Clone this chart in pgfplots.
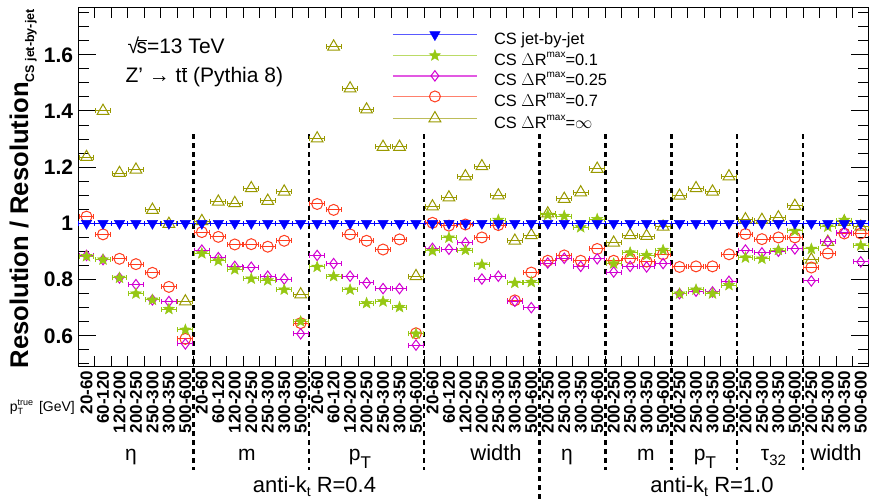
\documentclass[border=0pt]{standalone}
\usepackage{fontspec}
\setmainfont{Liberation Sans}
\usepackage{pgfplots}
\usepackage{pgfplotstable}
\pgfplotsset{compat=1.18}
\usetikzlibrary{plotmarks}

\definecolor{cblue}{RGB}{0,0,255}
\definecolor{cgreen}{RGB}{150,200,20}
\definecolor{cmag}{RGB}{210,0,210}
\definecolor{cred}{RGB}{255,60,30}
\definecolor{colive}{RGB}{153,153,0}

% filled five-pointed star (ROOT marker 29)
\pgfdeclareplotmark{fstar}{%
  \pgfpathmoveto{\pgfpointpolar{90}{\pgfplotmarksize}}%
  \pgfpathlineto{\pgfpointpolar{126}{0.42\pgfplotmarksize}}%
  \pgfpathlineto{\pgfpointpolar{162}{\pgfplotmarksize}}%
  \pgfpathlineto{\pgfpointpolar{198}{0.42\pgfplotmarksize}}%
  \pgfpathlineto{\pgfpointpolar{234}{\pgfplotmarksize}}%
  \pgfpathlineto{\pgfpointpolar{270}{0.42\pgfplotmarksize}}%
  \pgfpathlineto{\pgfpointpolar{306}{\pgfplotmarksize}}%
  \pgfpathlineto{\pgfpointpolar{342}{0.42\pgfplotmarksize}}%
  \pgfpathlineto{\pgfpointpolar{18}{\pgfplotmarksize}}%
  \pgfpathlineto{\pgfpointpolar{54}{0.42\pgfplotmarksize}}%
  \pgfpathclose
  \pgfusepathqfillstroke
}

% bin, dR=0.1, dR=0.25, dR=0.7, dR=inf
\pgfplotstableread{
x  dra   drb   drc   drd
0  0.883 0.886 1.024 1.236
1  0.871 0.871 0.961 1.400
2  0.806 0.806 0.874 1.179
3  0.750 0.782 0.855 1.191
4  0.728 0.728 0.824 1.048
5  0.695 0.722 0.774 0.998
6  0.621 0.571 0.589 0.722
7  0.893 0.905 0.969 1.008
8  0.867 0.878 0.952 1.077
9  0.836 0.847 0.925 1.072
10 0.803 0.844 0.926 1.125
11 0.797 0.812 0.917 1.080
12 0.764 0.802 0.938 1.113
13 0.651 0.607 0.645 0.747
14 0.845 0.886 1.069 1.302
15 0.812 0.857 1.048 1.629
16 0.764 0.812 0.961 1.480
17 0.716 0.788 0.938 1.405
18 0.722 0.768 0.907 1.272
19 0.702 0.768 0.943 1.272
20 0.607 0.567 0.609 0.812
21 0.902 0.911 1.002 1.060
22 0.949 0.908 0.992 1.092
23 0.905 0.931 0.996 1.167
24 0.853 0.802 0.950 1.203
25 1.012 0.812 0.994 1.099
26 0.788 0.723 0.726 0.938
27 0.791 0.700 0.825 0.958
28 1.030 0.859 0.867 1.035
29 1.026 0.876 0.886 1.087
30 0.986 0.847 0.867 1.110
31 1.015 0.874 0.909 1.194
32 0.857 0.827 0.867 0.931
33 0.896 0.847 0.875 0.958
34 0.887 0.845 0.864 0.955
35 0.905 0.857 0.890 0.988
36 0.750 0.750 0.845 1.098
37 0.764 0.759 0.847 1.125
38 0.750 0.756 0.847 1.113
39 0.780 0.794 0.890 1.167
40 0.878 0.905 0.962 1.014
41 0.874 0.895 0.944 1.012
42 0.905 0.901 0.950 1.021
43 0.973 0.909 0.950 1.062
44 0.909 0.795 0.843 0.871
45 0.988 0.935 0.893 0.934
46 1.012 0.969 0.964 1.005
47 0.921 0.863 0.964 0.988
}\restab

\newcommand{\fs}[1]{\fontsize{#1}{#1}\selectfont}
\newcommand{\dmax}{\raisebox{0.5em}{\fs{10}max}}

\begin{document}
\begin{tikzpicture}
\path[use as bounding box] (-78.3pt,-132.3pt) rectangle (792.7pt,366.7pt);
\begin{axis}[
    scale only axis,
    width=790.7pt, height=359.7pt,
    xmin=-0.5, xmax=47.5,
    ymin=0.49, ymax=1.77,
    clip=false,
    axis line style={line width=1pt},
    tick style={black, line width=1pt},
    major tick length=18pt, minor tick length=11pt,
    xtick={0,...,47},
    xticklabels={20-60,60-120,120-200,200-250,250-300,300-350,500-600,
                 20-60,60-120,120-200,200-250,250-300,300-350,500-600,
                 20-60,60-120,120-200,200-250,250-300,300-350,500-600,
                 20-60,60-120,120-200,200-250,250-300,300-350,500-600,
                 200-250,250-300,300-350,500-600,
                 200-250,250-300,300-350,500-600,
                 200-250,250-300,300-350,500-600,
                 200-250,250-300,300-350,500-600,
                 200-250,250-300,300-350,500-600},
    major x tick style={draw=none},
    minor xtick={-0.5,0.5,...,47.5},
    ytick={0.6,0.8,1,1.2,1.4,1.6},
    yticklabels={0.6,0.8,1,1.2,1.4,1.6},
    minor ytick={0.5,0.55,...,1.76},
    xticklabel style={rotate=90, anchor=east, inner sep=4pt, font=\fs{17}\bfseries},
    yticklabel style={inner sep=5pt, font=\fs{21}\bfseries},
    ylabel={Resolution / Resolution\raisebox{-6pt}{\fs{12.5}CS jet-by-jet}},
    ylabel style={at={(axis description cs:-0.0636,0.994)}, anchor=base east,
                  inner sep=0pt, font=\fs{25.6}\bfseries},
    legend cell align=left,
    reverse legend,
    legend style={draw=none, fill=none, at={(axis description cs:0.3967,0.932)},
                  anchor=north west, inner sep=0pt, row sep=1.2pt, font=\fs{16.4},
                  nodes={inner sep=0pt, text height=12pt, text depth=4pt}},
    legend image code/.code={
        \draw[#1, sharp plot, mark=none, line width=1.5pt, draw opacity=0.65]
            (0pt,5.9pt) -- (84pt,5.9pt);
        \draw[#1] plot coordinates {(42pt,5.9pt)};
        \path (0pt,5.9pt) (101pt,5.9pt);
    },
    error bars/error mark=|,
    error bars/error bar style={line width=1pt},
    error bars/error mark options={line width=1pt, mark size=2.5pt},
]

% dashed separators between variables
\pgfplotsinvokeforeach{6.5,13.5,20.5,31.5,35.5,39.5,43.5}{
    \draw[black, line width=2.5pt, dash pattern=on 4.5pt off 4.5pt]
        (axis cs:#1,1.318) -- (axis cs:#1,0.1224);
}
\draw[black, line width=2.5pt, dash pattern=on 4.5pt off 4.5pt]
    (axis cs:27.5,1.318) -- (axis cs:27.5,0.0);

\addplot[colive, only marks, mark=triangle, mark size=6.8pt, mark options={line width=1pt},
    error bars/.cd, x dir=both, x fixed=0.45] table[x=x, y=drd] {\restab};
\addlegendentry{CS $\Delta$R\dmax=$\infty$}
\addplot[cred, only marks, mark=o, mark size=5.5pt, mark options={line width=1pt},
    error bars/.cd, x dir=both, x fixed=0.45] table[x=x, y=drc] {\restab};
\addlegendentry{CS $\Delta$R\dmax=0.7}
\addplot[cmag, only marks, mark=diamond, mark size=5.2pt, mark options={line width=1pt},
    error bars/.cd, x dir=both, x fixed=0.45] table[x=x, y=drb] {\restab};
\addlegendentry{CS $\Delta$R\dmax=0.25}
\addplot[cgreen, only marks, mark=fstar, mark size=5.8pt, mark options={line width=0.5pt},
    error bars/.cd, x dir=both, x fixed=0.45] table[x=x, y=dra] {\restab};
\addlegendentry{CS $\Delta$R\dmax=0.1}
\addplot[cblue, only marks, mark=triangle*, mark size=6pt, mark options={rotate=180},
    error bars/.cd, x dir=both, x fixed=0.5] coordinates {
    (0,1) (1,1) (2,1) (3,1) (4,1) (5,1) (6,1) (7,1) (8,1) (9,1) (10,1) (11,1)
    (12,1) (13,1) (14,1) (15,1) (16,1) (17,1) (18,1) (19,1) (20,1) (21,1) (22,1) (23,1)
    (24,1) (25,1) (26,1) (27,1) (28,1) (29,1) (30,1) (31,1) (32,1) (33,1) (34,1) (35,1)
    (36,1) (37,1) (38,1) (39,1) (40,1) (41,1) (42,1) (43,1) (44,1) (45,1) (46,1) (47,1)};
\addlegendentry{CS jet-by-jet}

% texts inside the frame
\node[anchor=base west, font=\fs{21}] at (axis cs:2.274,1.606)
    {√\kern-0.12em$\overline{\mbox{s}}$=13 TeV};
\node[anchor=base west, font=\fs{21}] at (axis cs:2.153,1.4996)
    {Z' → t$\overline{\mbox{t}}$ (Pythia 8)};

% texts below the frame
\node[anchor=base east, font=\fs{14}, inner sep=0pt] at (axis cs:-0.70,0.3323)
    {p\rlap{\raisebox{6pt}{\fs{9}true}}\raisebox{-3pt}{\fs{9}T}\hspace{12pt} [GeV]};
\node[anchor=base, font=\fs{21}] at (axis cs:2.70,0.158) {η};
\node[anchor=base, font=\fs{21}] at (axis cs:9.74,0.158) {m};
\node[anchor=base, font=\fs{21}] at (axis cs:16.60,0.158) {p\raisebox{-8pt}{\fs{17}T}};
\node[anchor=base, font=\fs{22}] at (axis cs:24.86,0.158) {width};
\node[anchor=base, font=\fs{21}] at (axis cs:29.16,0.158) {η};
\node[anchor=base, font=\fs{21}] at (axis cs:33.96,0.158) {m};
\node[anchor=base, font=\fs{21}] at (axis cs:37.54,0.158) {p\raisebox{-8pt}{\fs{17}T}};
\node[anchor=base, font=\fs{21}] at (axis cs:41.70,0.158) {τ\raisebox{-5pt}{\fs{15}32}};
\node[anchor=base, font=\fs{22}] at (axis cs:45.50,0.158) {width};
\node[anchor=base, font=\fs{22}] at (axis cs:13.84,0.0441) {anti-k\raisebox{-4pt}{\fs{14}t} R=0.4};
\node[anchor=base, font=\fs{22}] at (axis cs:37.97,0.0441) {anti-k\raisebox{-4pt}{\fs{14}t} R=1.0};
\end{axis}
\end{tikzpicture}
\end{document}
